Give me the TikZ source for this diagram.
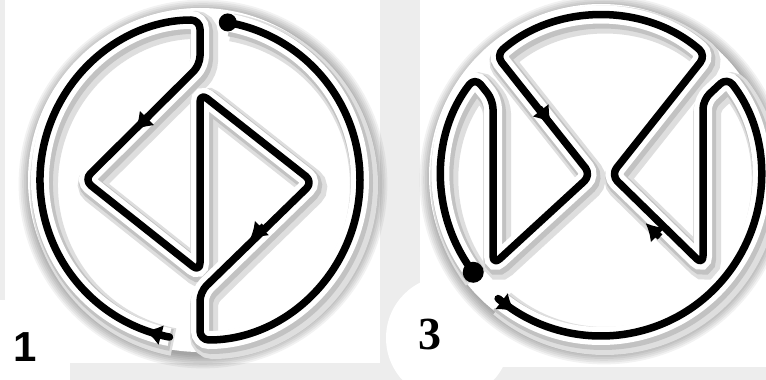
\documentclass[tikz,border=0pt]{standalone}
\usepackage{fontspec}
\newfontfamily\labelsans{Liberation Sans}
\newfontfamily\labelserif{Liberation Serif}
\usetikzlibrary{arrows.meta}
\tikzset{
  wire/.style={line width=7.5pt, line join=round, line cap=round, rounded corners=9pt,
    preaction={draw, black!13, line width=28pt, transform canvas={shift={(4pt,-5pt)}}},
    preaction={draw, black!24, line width=22pt, transform canvas={shift={(2pt,-3pt)}}},
    preaction={draw, white, line width=18pt}},
  tip/.style={line width=7pt, -{Latex[length=17pt,width=21pt]}},
  disc/.style={fill=white},
  rim/.style={fill=black, opacity=.05},
  numlabel/.style={inner sep=0pt, font=\bfseries\fontsize{42}{42}\selectfont}
}
\begin{document}
\begin{tikzpicture}[x=1pt, y=1pt]
\useasboundingbox (0,0) rectangle (766,380);
\fill[black!7] (0,0) rectangle (766,380);
\fill[white] (5,17) rectangle (380,380);
\fill[white] (0,0) rectangle (70,80);
\fill[white] (420,13) rectangle (766,380);
\fill[white] (448,42) circle (62);

\foreach \i in {1,...,8} {
  \fill[rim] (203,196) circle ({170+1.8*\i});
  \fill[rim] (604,200) circle ({170+1.8*\i});
}
\fill[disc] (200,200) circle (172);
\fill[disc] (601,204) circle (172);

\draw[wire] ([shift={(259:160)}]200,200) arc[start angle=259, end angle=90, radius=160]
  -- (200,315) -- (84,200) -- (200,108) -- (200,287) -- (313,198) -- (200,88) -- (200,40)
  arc[start angle=270, end angle=440, radius=160];
\draw[tip] (149,264) -- ++(225:20);
\draw[tip] (264,154) -- ++(224:20);
\draw[tip] ([shift={(257:160)}]200,200) -- ++(165:20);
\fill ([shift={(80:160)}]200,200) circle (9);

\draw[wire] ([shift={(230:160)}]601,204) arc[start angle=230, end angle=398, radius=160]
  -- (703,280) -- (703,115) -- (611,205) -- ([shift={(49:160)}]601,204)
  arc[start angle=49, end angle=131, radius=160]
  -- (591,205) -- (493,115) -- (493,280) -- ([shift={(142:160)}]601,204)
  arc[start angle=142, end angle=217, radius=160];
\draw[tip] (539,272) -- ++(308:20);
\draw[tip] (660,143) -- ++(136:20);
\draw[tip] ([shift={(230.5:160)}]601,204) -- ++(322:20);
\fill ([shift={(217:160)}]601,204) circle (10.5);

\node[numlabel] (lab1) at (25,33) {\labelsans 1};
\node[numlabel] (lab3) at (430,46) {\labelserif\fontsize{46}{46}\selectfont 3};
\end{tikzpicture}
\end{document}
